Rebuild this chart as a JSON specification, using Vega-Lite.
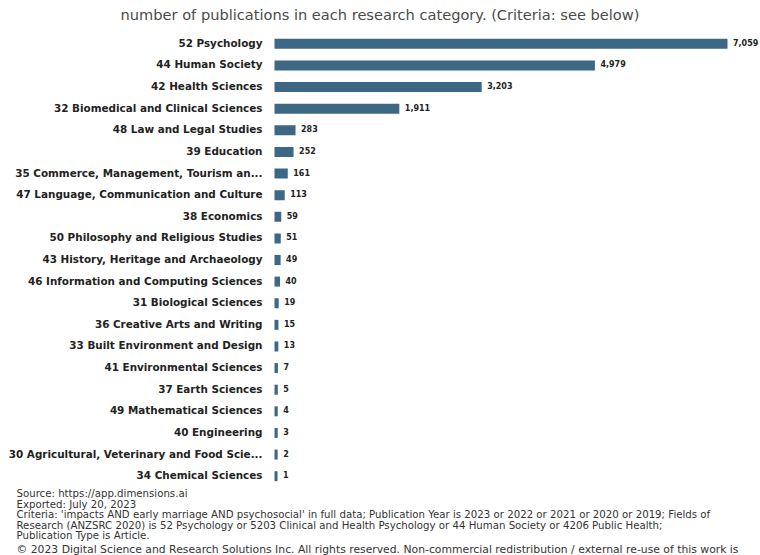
{
  "$schema": "https://vega.github.io/schema/vega-lite/v6.json",
  "autosize": "none",
  "width": 450,
  "height": 454,
  "padding": {"left": 276, "top": 33, "right": 34, "bottom": 68},
  "background": "white",
  "title": {
    "text": "number of publications in each research category. (Criteria: see below)",
    "anchor": "middle",
    "dx": -121,
    "dy": 12,
    "offset": 10,
    "baseline": "alphabetic",
    "font": "DejaVu Sans",
    "fontSize": 14.6,
    "fontWeight": "normal",
    "color": "#4a4a4a"
  },
  "data": {
    "values": [
      {"category": "52 Psychology", "count": 7059},
      {"category": "44 Human Society", "count": 4979},
      {"category": "42 Health Sciences", "count": 3203},
      {"category": "32 Biomedical and Clinical Sciences", "count": 1911},
      {"category": "48 Law and Legal Studies", "count": 283},
      {"category": "39 Education", "count": 252},
      {"category": "35 Commerce, Management, Tourism an...", "count": 161},
      {"category": "47 Language, Communication and Culture", "count": 113},
      {"category": "38 Economics", "count": 59},
      {"category": "50 Philosophy and Religious Studies", "count": 51},
      {"category": "43 History, Heritage and Archaeology", "count": 49},
      {"category": "46 Information and Computing Sciences", "count": 40},
      {"category": "31 Biological Sciences", "count": 19},
      {"category": "36 Creative Arts and Writing", "count": 15},
      {"category": "33 Built Environment and Design", "count": 13},
      {"category": "41 Environmental Sciences", "count": 7},
      {"category": "37 Earth Sciences", "count": 5},
      {"category": "49 Mathematical Sciences", "count": 4},
      {"category": "40 Engineering", "count": 3},
      {"category": "30 Agricultural, Veterinary and Food Scie...", "count": 2},
      {"category": "34 Chemical Sciences", "count": 1}
    ]
  },
  "encoding": {
    "y": {
      "field": "category",
      "type": "nominal",
      "sort": null,
      "axis": {
        "title": "© 2023 Digital Science and Research Solutions Inc. All rights reserved. Non-commercial redistribution / external re-use of this work is",
        "titleAngle": 0,
        "titleX": -260,
        "titleY": 519,
        "titleAlign": "left",
        "titleAnchor": null,
        "titleBaseline": "alphabetic",
        "titleFont": "DejaVu Sans",
        "titleFontSize": 10.8,
        "titleFontWeight": "normal",
        "titleColor": "#333333",
        "ticks": false,
        "domain": false,
        "labelPadding": 14,
        "labelFont": "DejaVu Sans",
        "labelFontWeight": "bold",
        "labelFontSize": 10.4,
        "labelColor": "#222222",
        "labelLimit": 0
      }
    },
    "x": {
      "field": "count",
      "type": "quantitative",
      "scale": {"domain": [0, 7059], "nice": false},
      "axis": {
        "title": [
          "Source: https://app.dimensions.ai",
          "Exported: July 20, 2023",
          "Criteria: 'impacts AND early marriage AND psychosocial' in full data; Publication Year is 2023 or 2022 or 2021 or 2020 or 2019; Fields of",
          "Research (ANZSRC 2020) is 52 Psychology or 5203 Clinical and Health Psychology or 44 Human Society or 4206 Public Health;",
          "Publication Type is Article."
        ],
        "titleX": -260,
        "titleY": 9.5,
        "titleAlign": "left",
        "titleAnchor": null,
        "titleBaseline": "alphabetic",
        "titleFont": "DejaVu Sans",
        "titleFontSize": 10.2,
        "titleFontWeight": "normal",
        "titleColor": "#333333",
        "titleLineHeight": 10.5,
        "labels": false,
        "ticks": false,
        "domain": false,
        "grid": false
      }
    }
  },
  "layer": [
    {
      "mark": {"type": "bar", "size": 7, "color": "#3d6883", "stroke": "#3d6883", "strokeWidth": 3}
    },
    {
      "mark": {"type": "text", "align": "left", "baseline": "middle", "dx": 7, "font": "DejaVu Sans", "fontWeight": "bold", "fontSize": 8, "color": "#222222"},
      "encoding": {"text": {"field": "count", "type": "quantitative", "format": ",d"}}
    }
  ],
  "config": {"view": {"stroke": null}}
}
